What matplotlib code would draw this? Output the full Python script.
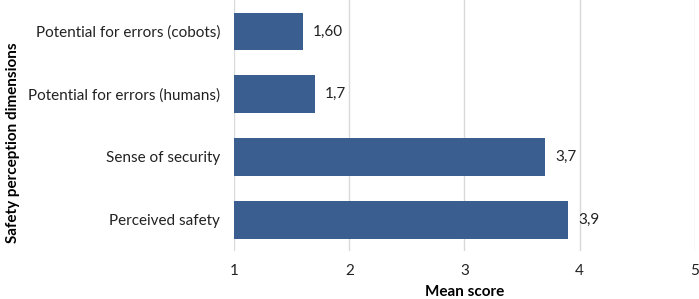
import matplotlib.pyplot as plt

plt.rcParams['font.family'] = ['Lato', 'DejaVu Sans']

# data (bottom to top)
categories = ['Perceived safety', 'Sense of security',
              'Potential for errors (humans)', 'Potential for errors (cobots)']
scores = [3.9, 3.7, 1.7, 1.6]
value_labels = ['3,9', '3,7', '1,7', '1,60']

fig = plt.figure(figsize=(6.99, 2.99), dpi=100)
ax = fig.add_axes([0.335, 0.16, 0.659, 0.84])

ax.barh(categories, scores, height=0.6, color='#3a5e90', zorder=3)
for i, (v, lab) in enumerate(zip(scores, value_labels)):
    ax.text(v + 0.085, i, lab, va='center', ha='left', fontsize=11, color='#222222')

ax.set_xlim(1, 5)
ax.set_ylim(-0.5, 3.5)
ax.set_xticks([1, 2, 3, 4, 5])
ax.grid(axis='x', color='#d9d9d9', linewidth=1, zorder=0)
for s in ax.spines.values():
    s.set_visible(False)
ax.tick_params(length=0, labelsize=11, colors='#222222')
ax.tick_params(axis='x', pad=9)
ax.tick_params(axis='y', pad=10)

ax.set_xlabel('Mean score', fontsize=11, fontweight='bold', labelpad=5)
ax.set_ylabel('Safety perception dimensions', fontsize=11, fontweight='bold')
ax.yaxis.set_label_coords(-0.465, 0.43)

fig.savefig('out.png', dpi=100)
